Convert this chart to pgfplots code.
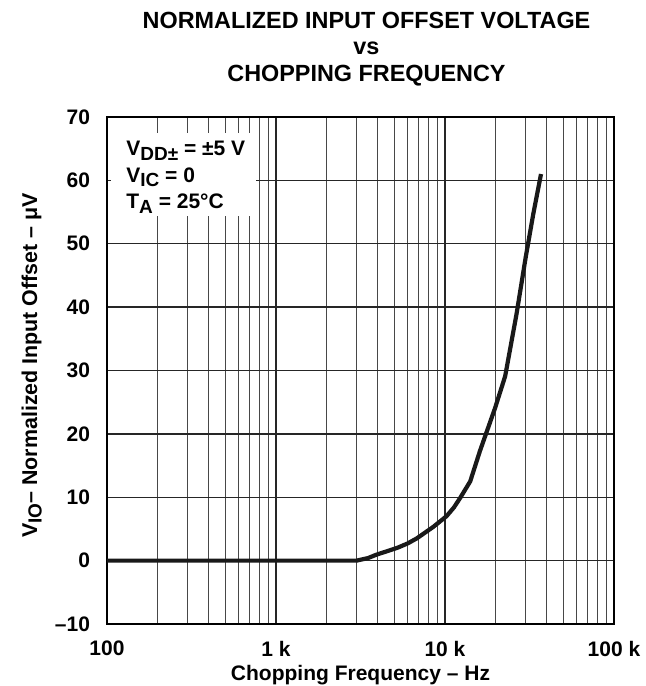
\documentclass[border=0pt]{standalone}
\usepackage{pgfplots}
\pgfplotsset{compat=1.18}
\usepackage{fontspec}
\setmainfont{Liberation Sans}
\newcommand{\sub}[1]{\raisebox{-0.4ex}{\fontsize{9.5}{9.5}\selectfont #1}}
\begin{document}
\begin{tikzpicture}
\begin{axis}[
  width=253.5pt, height=253.5pt, scale only axis,
  xmode=log, xmin=100, xmax=100000, ymin=-10, ymax=70,
  xtick={100,1000,10000,100000},
  xticklabels={100,1 k,10 k,100 k},
  minor xtick={200,300,400,500,600,700,800,900,2000,3000,4000,5000,6000,7000,8000,9000,20000,30000,40000,50000,60000,70000,80000,90000},
  ytick={-10,0,10,20,30,40,50,60,70},
  yticklabels={\textendash10,0,10,20,30,40,50,60,70},
  grid=both,
  major grid style={black!85, line width=0.65pt},
  minor grid style={black!72, line width=0.55pt},
  major tick length=0pt, minor tick length=0pt,
  axis line style={black, line width=1.1pt},
  /pgf/number format/assume math mode=true,
  tick label style={font=\fontsize{10.5}{12}\selectfont\bfseries},
  xticklabel style={yshift=-5pt},
  yticklabel style={xshift=-5pt},
  xlabel={Chopping Frequency \textendash{} Hz},
  xlabel style={at={(axis description cs:0.5,0)}, anchor=base, yshift=-28pt, font=\fontsize{10.5}{12}\selectfont\bfseries},
  ylabel={V\sub{IO}\textendash{} Normalized Input Offset \textendash{} μV},
  ylabel style={at={(axis description cs:-0.138,0.51)}, anchor=base, font=\fontsize{10.7}{12}\selectfont\bfseries},
]
\addplot[black!90, line width=2.1pt, line join=round] coordinates {
(100,0) (3000,0) (3500,0.4) (3940,0.95) (4500,1.45) (5200,2.0) (6000,2.7) (6800,3.5) (8500,5.3) (10200,7.0) (11300,8.4) (12300,9.9) (14100,12.5) (16100,17.3) (19800,24.1) (22700,29.1) (26500,38.9) (30000,47.8) (33300,54.7) (37000,61.0)
};
\fill[white] (axis cs:105.6,54.4) rectangle (axis cs:761.6,67.5);
\node[anchor=base west, font=\fontsize{10.5}{12}\selectfont\bfseries, inner sep=0pt] at (axis cs:129.5,63.9) {V\sub{DD±} = ±5 V};
\node[anchor=base west, font=\fontsize{10.5}{12}\selectfont\bfseries, inner sep=0pt] at (axis cs:129.5,59.7) {V\sub{IC} = 0};
\node[anchor=base west, font=\fontsize{10.5}{12}\selectfont\bfseries, inner sep=0pt] at (axis cs:129.5,55.5) {T\sub{A} = 25°C};
\end{axis}
\node[anchor=base, font=\fontsize{11.7}{13}\selectfont\bfseries, xshift=3pt, yshift=44.5pt] at (current axis.north) {NORMALIZED INPUT OFFSET VOLTAGE};
\node[anchor=base, font=\fontsize{11.7}{13}\selectfont\bfseries, xshift=3pt, yshift=31.25pt] at (current axis.north) {vs};
\node[anchor=base, font=\fontsize{11.7}{13}\selectfont\bfseries, xshift=3pt, yshift=18pt] at (current axis.north) {CHOPPING FREQUENCY};
\pgfresetboundingbox
\path (current axis.south west) ++(-53.5pt,-31pt) rectangle ++(323pt,343pt);
\end{tikzpicture}
\end{document}
